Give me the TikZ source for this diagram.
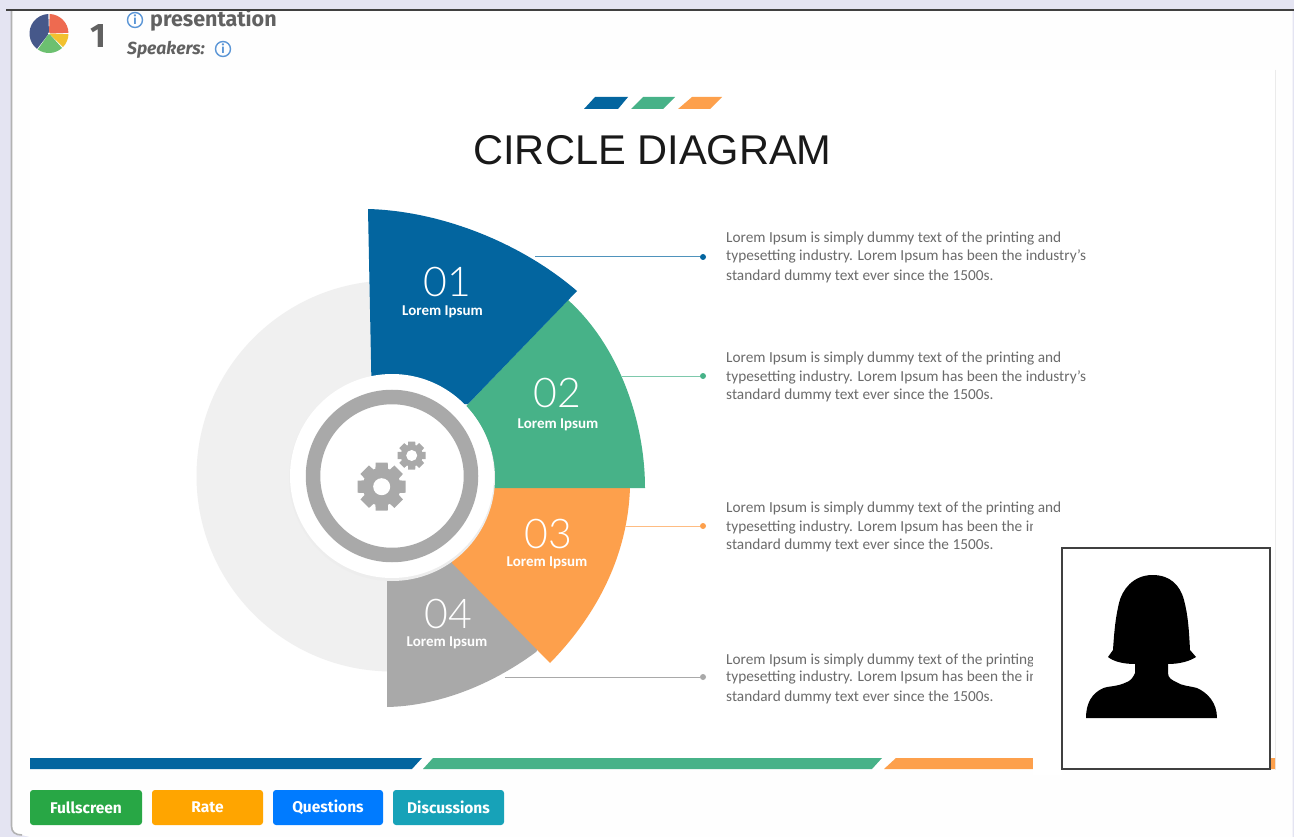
\documentclass[tikz,border=0pt]{standalone}
\usepackage{fontspec}
\setmainfont{Carlito}
\newfontfamily\fira{Fira Sans}
\newfontfamily\lib{Liberation Sans}
\newfontfamily\lightf{Lato Light}
\definecolor{cblue}{HTML}{03659F}
\definecolor{cgreen}{HTML}{47B288}
\definecolor{corange}{HTML}{FDA04C}
\definecolor{cgray}{HTML}{A9A9A9}
\definecolor{lav}{HTML}{E4E4F2}
\definecolor{infob}{HTML}{5B96D6}
\definecolor{pieblue}{HTML}{46588A}
\definecolor{piered}{HTML}{EE6A50}
\definecolor{pieyel}{HTML}{F2C12E}
\definecolor{piegreen}{HTML}{6CC070}
\definecolor{bgreen}{HTML}{28A745}
\definecolor{borange}{HTML}{FFA500}
\definecolor{bblue}{HTML}{007BFF}
\definecolor{bteal}{HTML}{17A2B8}
\newcommand{\fsz}[1]{\fontsize{#1}{#1}\selectfont}
\tikzset{
  x=1pt,y=-1pt,
  body/.style={anchor=base west,inner sep=0pt,text=black!58,font=\fsz{15.3}},
  num/.style={anchor=base,inner sep=0pt,text=white,font=\lightf\fsz{41}},
  sub/.style={anchor=base,inner sep=0pt,text=white,font=\bfseries\fsz{15}},
  dot/.style={circle,inner sep=0pt,minimum size=6pt},
  btn/.style={rounded corners=3pt,inner sep=0pt,minimum height=35pt,text=white,font=\fira\bfseries\fsz{15.5}},
  info/.style={circle,draw=infob,line width=1.4pt,minimum size=15pt,inner sep=0pt,text=infob,font=\fira\bfseries\fsz{12}},
}
\newcommand{\gear}[4]{%
  \fill[cgray] (#1,#2) circle[radius=#4];
  \foreach \a in {0,45,...,315}{
    \fill[cgray,shift={(#1,#2)},rotate=\a]
      (-#3*0.30,0) -- (-#3*0.25,-#3) -- (#3*0.25,-#3) -- (#3*0.30,0) -- cycle;
  }
}
\begin{document}
\begin{tikzpicture}
\useasboundingbox (0,0) rectangle (1294,837);
% page and card
\fill[lav] (0,0) rectangle (1294,837);
\fill[white!99.5!black] (11.5,0) -- (11.5,826) .. controls (11.5,832) and (15,835) .. (22,835) -- (30,837) -- (1292.5,837) -- (1292.5,0) -- cycle;
\draw[black!30,line width=1.6pt] (11.5,10) -- (11.5,826) .. controls (11.5,832) and (15,835) .. (22,835);
% slide
\fill[white] (30,70) rectangle (1275,770);
\draw[black!8,line width=0.8pt] (1275.5,70) -- (1275.5,770);
% header
\begin{scope}[shift={(49,33.5)}]
  \fill[pieblue] (0,0) -- (128:19.5) arc[start angle=128,end angle=268,radius=19.5] -- cycle;
  \fill[piered] (0,0) -- (-88:19.5) arc[start angle=-88,end angle=-2,radius=19.5] -- cycle;
  \fill[pieyel] (0,0) -- (2:19.5) arc[start angle=2,end angle=44,radius=19.5] -- cycle;
  \fill[piegreen] (0,0) -- (48:19.5) arc[start angle=48,end angle=125,radius=19.5] -- cycle;
  \fill[white] (0,0) circle[radius=1.2];
\end{scope}
\node[anchor=base,inner sep=0pt,text=black!62,font=\fira\bfseries\fsz{34}] (count) at (98,48) {1};
\node[info] (i1) at (135,20) {i};
\node[anchor=base west,inner sep=0pt,text=black!62,font=\fira\bfseries\fsz{21.5}] (pres) at (150,27) {presentation};
\node[anchor=base west,inner sep=0pt,text=black!62,font=\fira\bfseries\itshape\fsz{17.5}] (spk) at (127,55) {Speakers:};
\node[info] (i2) at (223,49) {i};
\fill[lav] (0,0) rectangle (1294,9);
\fill[black!75] (6,9) rectangle (1294,11);
% title
\fill[cblue] (595,97) -- (628,97) -- (618,109) -- (584,109) -- cycle;
\fill[cgreen] (643,97) -- (675,97) -- (663,109) -- (631,109) -- cycle;
\fill[corange] (692,97) -- (722,97) -- (710,109) -- (678,109) -- cycle;
\node[anchor=base,inner sep=0pt,text=black!90,font=\lib\fsz{41.6}] (title) at (652.5,165) {CIRCLE DIAGRAM};
% disc and sectors
\fill[black!6] (392,476) circle[radius=195.5];
\fill[cgray] (387,540) -- (480,540) -- (545,640) -- (536,652) .. controls (490,686) and (437,706) .. (387,707) -- cycle;
\fill[corange] (493,487) -- (630,487) .. controls (628,555) and (597,615) .. (550,663) -- (452,563) -- (440,520) -- cycle;
\fill[cgreen] (568,300) .. controls (618,345) and (645,420) .. (645,488) -- (493,488) -- (440,440) -- (468,404) -- cycle;
\fill[cblue] (368,209) .. controls (440,211) and (520,242) .. (577,291) -- (468,404) -- (372,410) -- cycle;
% connectors
\node[dot,fill=cblue] (d1) at (703,257) {};
\node[dot,fill=cgreen] (d2) at (703,376) {};
\node[dot,fill=corange] (d3) at (703,526) {};
\node[dot,fill=cgray] (d4) at (703,677) {};
\coordinate (s1) at (535,257);
\coordinate (s2) at (622,376);
\coordinate (s3) at (625,526);
\coordinate (s4) at (505,677);
\draw[cblue!70,line width=1pt] (s1) -- (d1);
\draw[cgreen!70,line width=1pt] (s2) -- (d2);
\draw[corange!70,line width=1pt] (s3) -- (d3);
\draw[cgray,line width=1pt] (s4) -- (d4);
% hub
\fill[black!7] (392,478) circle[radius=103];
\fill[white] (392,476) circle[radius=102];
\draw[cgray,line width=14.5pt] (392,476) circle[radius=79];
\gear{381.7}{486.7}{24}{19}
\fill[white] (381.7,486.7) circle[radius=8.5];
\gear{411.7}{455.5}{14}{11}
\fill[white] (411.7,455.5) circle[radius=5.5];
% sector labels
\node[num] (n1) at (447,297) {01};
\node[sub] (l1) at (442.5,316) {Lorem Ipsum};
\node[num] (n2) at (557,407) {02};
\node[sub] (l2) at (558,428) {Lorem Ipsum};
\node[num] (n3) at (548,548) {03};
\node[sub] (l3) at (547,566) {Lorem Ipsum};
\node[num] (n4) at (448,628) {04};
\node[sub] (l4) at (447,646) {Lorem Ipsum};
% body text
\node[body] (t11) at (726,243) {Lorem Ipsum is simply dummy text of the printing and};
\node[body] (t12) at (726,261) {typesetting industry. Lorem Ipsum has been the industry's};
\node[body] (t13) at (726,281) {standard dummy text ever since the 1500s.};
\node[body] (t21) at (726,362) {Lorem Ipsum is simply dummy text of the printing and};
\node[body] (t22) at (726,381) {typesetting industry. Lorem Ipsum has been the industry's};
\node[body] (t23) at (726,399) {standard dummy text ever since the 1500s.};
\node[body] (t31) at (726,512) {Lorem Ipsum is simply dummy text of the printing and};
\node[body] (t32) at (726,531) {typesetting industry. Lorem Ipsum has been the industry's};
\node[body] (t33) at (726,549) {standard dummy text ever since the 1500s.};
\node[body] (t41) at (726,664) {Lorem Ipsum is simply dummy text of the printing and};
\node[body] (t42) at (726,681) {typesetting industry. Lorem Ipsum has been the industry's};
\node[body] (t43) at (726,701) {standard dummy text ever since the 1500s.};
% footer bars
\fill[cblue] (30,758) -- (422,758) -- (412,769) -- (30,769) -- cycle;
\fill[cgreen] (433,758) -- (882,758) -- (872,769) -- (423,769) -- cycle;
\fill[corange] (896,758) -- (1275,758) -- (1275,769) -- (884,769) -- cycle;
% webcam overlay
\fill[white] (1033,518) rectangle (1062,775);
\fill[white] (1062,518) rectangle (1275,548);
\fill[white,draw=black!75,line width=1.2pt] (1062,548) rectangle (1270,769);
\fill[black] (1152.5,575) .. controls (1133,575) and (1122,590) .. (1119,603)
  .. controls (1115,620) and (1114,635) .. (1113,650) -- (1108,657)
  .. controls (1113,661) and (1122,664) .. (1135,664) -- (1135,673)
  .. controls (1133,678) and (1130,681) .. (1127,682)
  .. controls (1117,687) and (1108,686) .. (1103.5,688)
  .. controls (1092,693) and (1086,703) .. (1086,718) -- (1217,718)
  .. controls (1217,703) and (1208,693) .. (1197,688)
  .. controls (1190,686) and (1182,686) .. (1176,682)
  .. controls (1172,680) and (1168,678) .. (1168,673) -- (1168,664)
  .. controls (1180,664) and (1190,661) .. (1196,657) -- (1190,650)
  .. controls (1189,630) and (1188,615) .. (1184,600)
  .. controls (1180,585) and (1170,575) .. (1152.5,575) -- cycle;
% buttons
\node[btn,fill=bgreen,minimum width=112pt] (b1) at (86,807.5) {Fullscreen};
\node[btn,fill=borange,minimum width=111pt] (b2) at (207.5,807.5) {Rate};
\node[btn,fill=bblue,minimum width=110pt] (b3) at (328,807.5) {Questions};
\node[btn,fill=bteal,minimum width=111pt] (b4) at (448.5,807.5) {Discussions};
\end{tikzpicture}
\end{document}
